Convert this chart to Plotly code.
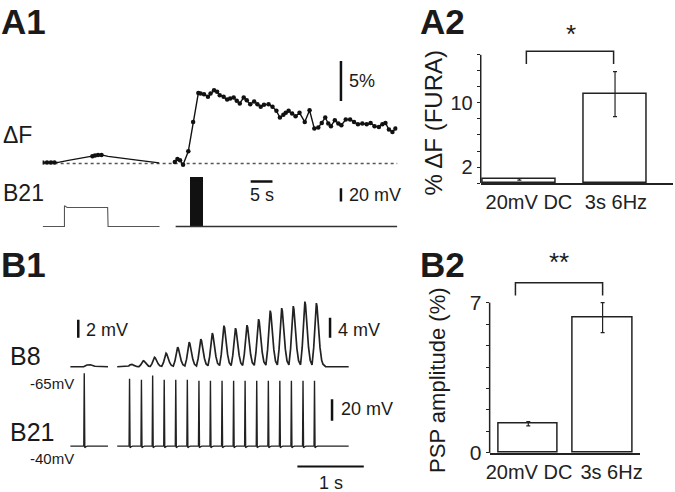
import plotly.graph_objects as go

W, H = 675, 492          # reference picture size (positions below are fractions of it)
FIG_H = 504              # rendered page height (photo is rescaled to 492)
FONT = "Arial, 'Liberation Sans', sans-serif"
BLACK = "#111111"

# ---------------- A1 : Fura dF (%) vs time (s) ----------------
df_seg1_t = [0.0, 1.0, 1.9, 2.7, 3.6, 5.9, 8.6, 11.4, 12.0, 12.7, 13.5, 15.0, 17.7, 19.9, 22.1, 24.4, 26.7]
df_seg1_v = [0.15, 0.15, 0.15, 0.15, 0.15, 0.41, 0.63, 0.91, 1.0, 1.08, 1.08, 0.91, 0.75, 0.58, 0.41, 0.25, 0.1]
df_seg1_dot_idx = [0, 1, 2, 3, 7, 8, 9, 10]

df_seg2_t = [30.3, 30.9, 31.5, 32.2, 33.4, 34.5, 35.7, 36.2, 37.0, 37.9, 38.5, 39.3, 40.0, 40.6, 41.5,
             42.3, 43.0, 43.8, 44.5, 45.2, 46.1, 46.8, 47.6, 48.5, 49.25, 50.0, 50.75, 51.8, 52.7, 53.6,
             54.4, 55.2, 55.75, 56.4, 57.2, 58.0, 58.9, 60.1, 61.2, 62.3, 63.2, 64.0, 64.8, 65.5, 66.1,
             67.0, 67.8, 68.5, 69.5, 70.5, 71.4, 72.3, 73.3, 74.3, 75.2, 76.1, 77.1, 77.9, 78.6, 79.4,
             80.2, 80.9]
df_seg2_v = [0.2, 0.58, 0.41, -0.13, 1.54, 5.2, 8.8, 8.75, 8.66, 8.33, 8.75, 9.16, 8.95, 8.54, 8.33,
             8.0, 8.12, 8.25, 7.83, 7.5, 8.25, 7.91, 7.41, 7.75, 7.41, 7.08, 7.33, 7.41, 7.08, 6.58,
             5.75, 6.08, 6.33, 6.58, 6.25, 5.91, 6.33, 5.2, 6.66, 4.37, 4.5, 5.08, 5.75, 5.0, 4.66,
             5.41, 5.0, 4.79, 5.5, 5.5, 5.2, 4.91, 5.0, 4.91, 5.08, 4.66, 4.58, 4.91, 5.08, 4.25,
             3.95, 4.37]
df_time_end = 81.36

# B21 membrane potential under the imaging (mV relative to rest)
b21a_seg1_t = [0.0, 5.0, 5.0, 5.6, 14.9, 15.0, 26.8]
b21a_seg1_v = [0.0, 0.0, 32.0, 29.2, 29.2, 0.0, 0.0]
b21a_seg2_t = [30.5, 81.3]
b21a_seg2_v = [0.0, 0.0]
stim_start, stim_dur, stim_height = 33.6, 3.2, 75.0

# ---------------- A2 : % dF (FURA) ----------------
a2_labels = ["20mV DC", "3s 6Hz"]
a2_means = [0.45, 11.1]
a2_err = [0.1, 2.8]
a2_ticks = [0, 2, 4, 6, 8, 10, 12, 14, 16]
a2_ticktext = ["", "2", "", "", "", "10", "", "", ""]

# ---------------- B1 : B8 PSPs and B21 spikes ----------------
b21_single_spike_t = [0.209]
b21_single_spike_h = [68.0]
b21_train_t = [0.891, 1.070, 1.239, 1.413, 1.587, 1.761, 1.936, 2.109, 2.284, 2.458, 2.631, 2.806,
               2.981, 3.154, 3.328, 3.503, 3.676]
b21_train_h = [63, 62, 66, 62, 62, 62, 61, 61, 61, 61, 61, 61, 61, 61, 61, 61, 61]
b8_psp_amp = [0.5, 1.2, 1.9, 2.7, 3.9, 4.9, 5.5, 6.7, 8.2, 7.7, 8.3, 9.5, 11.2, 11.7, 12.1, 13.0, 12.7]
b8_seg1_t = [0.0, 0.2, 0.25, 0.3, 0.37, 0.567]
b8_seg1_v = [0.0, 0.0, 0.35, 0.4, 0.1, 0.0]
seg1_end, seg2_start, seg2_end = 0.567, 0.705, 4.19

# ---------------- B2 : PSP amplitude (%) ----------------
b2_labels = ["20mV DC", "3s 6Hz"]
b2_means = [1.36, 6.3]
b2_err = [0.1, 0.7]
b2_ticks = [0, 1, 2, 3, 4, 5, 6, 7]
b2_ticktext = ["0", "", "", "", "", "", "", "7"]


# ---------------- helpers ----------------
def dom_x(a, b):
    return [a / W, b / W]


def dom_y(top, bottom):
    return [1 - bottom / H, 1 - top / H]


def spike_path(times, heights, t0, t1):
    xs, ys = [t0], [0.0]
    for t, h in zip(times, heights):
        xs += [t - 0.007, t, t + 0.008, t + 0.018, t + 0.045]
        ys += [0.0, h, -1.5, -0.8, 0.0]
    xs.append(t1)
    ys.append(0.0)
    return xs, ys


PSP_DELAY = 0.028
PSP_REL_T = [-0.065, -0.04, -0.02, -0.008, 0.0, 0.01, 0.03, 0.055, 0.08, 0.1]
PSP_FRAC = [0.03, 0.3, 0.75, 0.96, 1.0, 0.95, 0.65, 0.3, 0.1, 0.04]


def psp_path(spike_times, amps, t0, t1):
    xs, ys = [t0], [0.0]
    for t, a in zip(spike_times, amps):
        tp = t + PSP_DELAY
        for rt, f in zip(PSP_REL_T, PSP_FRAC):
            xs.append(tp + rt)
            ys.append(a * f)
    xs += [xs[-1] + 0.04, t1]
    ys += [0.0, 0.0]
    return xs, ys


fig = go.Figure()
line_k = dict(color=BLACK, width=1.4)

# ---- A1 traces ----
fig.add_trace(go.Scatter(x=[0, df_time_end], y=[0, 0], mode="lines",
                         line=dict(color="#555555", width=1.5, dash="3px,3px"), xaxis="x", yaxis="y"))
fig.add_trace(go.Scatter(x=df_seg1_t, y=df_seg1_v, mode="lines", line=dict(color=BLACK, width=1.2),
                         xaxis="x", yaxis="y"))
fig.add_trace(go.Scatter(x=[df_seg1_t[i] for i in df_seg1_dot_idx], y=[df_seg1_v[i] for i in df_seg1_dot_idx],
                         mode="markers", marker=dict(color=BLACK, size=4.5), xaxis="x", yaxis="y"))
fig.add_trace(go.Scatter(x=df_seg2_t, y=df_seg2_v, mode="lines+markers", line=line_k,
                         marker=dict(color=BLACK, size=4.5), xaxis="x", yaxis="y"))
# 5% scale bar
fig.add_trace(go.Scatter(x=[68.4, 68.4], y=[7.8, 12.8], mode="lines", line=dict(color=BLACK, width=2.5),
                         xaxis="x", yaxis="y"))

fig.add_trace(go.Scatter(x=b21a_seg1_t, y=b21a_seg1_v, mode="lines", line=dict(color="#555555", width=1.1),
                         xaxis="x2", yaxis="y2"))
fig.add_trace(go.Scatter(x=b21a_seg2_t, y=b21a_seg2_v, mode="lines", line=dict(color="#333333", width=1.4),
                         xaxis="x2", yaxis="y2"))
fig.add_trace(go.Bar(x=[stim_start + stim_dur / 2], y=[stim_height], width=[stim_dur], base=0,
                     marker=dict(color=BLACK, line=dict(width=0)), xaxis="x2", yaxis="y2"))
fig.add_trace(go.Scatter(x=[47.7, 52.7], y=[69, 69], mode="lines", line=dict(color=BLACK, width=2.5),
                         xaxis="x2", yaxis="y2"))
fig.add_trace(go.Scatter(x=[68.4, 68.4], y=[38.5, 58.5], mode="lines", line=dict(color=BLACK, width=2.5),
                         xaxis="x2", yaxis="y2"))

# ---- A2 bars ----
fig.add_trace(go.Bar(x=[1, 2], y=a2_means, width=[0.76, 0.66],
                     marker=dict(color="white", line=dict(color="#222222", width=1.5)),
                     error_y=dict(type="data", array=a2_err, color="#222222", thickness=1.2, width=2),
                     xaxis="x3", yaxis="y3"))
fig.add_trace(go.Scatter(x=[1.073, 1.073, 1.985, 1.985], y=[14.84, 16.46, 16.46, 14.84], mode="lines",
                         line=dict(color="#222222", width=1.5), xaxis="x3", yaxis="y3"))

# ---- B1 traces ----
x8a, y8a = b8_seg1_t, b8_seg1_v
x8b, y8b = psp_path(b21_train_t, b8_psp_amp, seg2_start, seg2_end)
fig.add_trace(go.Scatter(x=x8a, y=y8a, mode="lines", line=dict(color="#222222", width=1.7), xaxis="x5", yaxis="y5"))
fig.add_trace(go.Scatter(x=x8b, y=y8b, mode="lines", line=dict(color="#222222", width=1.7), xaxis="x5", yaxis="y5"))
fig.add_trace(go.Scatter(x=[0.119, 0.119], y=[5.8, 9.4], mode="lines", line=dict(color=BLACK, width=2.5),
                         xaxis="x5", yaxis="y5"))
fig.add_trace(go.Scatter(x=[3.91, 3.91], y=[5.8, 9.8], mode="lines", line=dict(color=BLACK, width=2.5),
                         xaxis="x5", yaxis="y5"))

x21a, y21a = spike_path(b21_single_spike_t, b21_single_spike_h, 0.0, seg1_end)
x21b, y21b = spike_path(b21_train_t, b21_train_h, seg2_start, seg2_end)
fig.add_trace(go.Scatter(x=x21a, y=y21a, mode="lines", line=dict(color="#222222", width=1.4), xaxis="x6", yaxis="y6"))
fig.add_trace(go.Scatter(x=x21b, y=y21b, mode="lines", line=dict(color="#222222", width=1.4), xaxis="x6", yaxis="y6"))
fig.add_trace(go.Scatter(x=[3.94, 3.94], y=[23.8, 43.8], mode="lines", line=dict(color=BLACK, width=2.5),
                         xaxis="x6", yaxis="y6"))
fig.add_trace(go.Scatter(x=[3.418, 4.418], y=[-19, -19], mode="lines", line=dict(color=BLACK, width=2.0),
                         xaxis="x6", yaxis="y6"))

# ---- B2 bars ----
fig.add_trace(go.Bar(x=[1, 2], y=b2_means, width=[0.8, 0.8],
                     marker=dict(color="white", line=dict(color="#222222", width=1.5)),
                     error_y=dict(type="data", array=b2_err, color="#222222", thickness=1.2, width=2),
                     xaxis="x4", yaxis="y4"))
fig.add_trace(go.Scatter(x=[0.827, 0.827, 2.0, 2.0], y=[7.33, 7.93, 7.93, 7.33], mode="lines",
                         line=dict(color="#222222", width=1.5), xaxis="x4", yaxis="y4"))

hidden = dict(visible=False, showgrid=False, zeroline=False)
xlabfont = dict(family=FONT, size=20, color="#222222")

layout = dict(
    width=W, height=FIG_H, margin=dict(l=0, r=0, t=0, b=0), showlegend=False,
    paper_bgcolor="white", plot_bgcolor="rgba(0,0,0,0)", bargap=0,
    font=dict(family=FONT, color="#222222"),
    xaxis=dict(domain=dom_x(39, 397), range=[0, df_time_end], anchor="y", **hidden),
    yaxis=dict(domain=dom_y(50, 170), range=[-0.84, 14.16], anchor="x", **hidden),
    xaxis2=dict(domain=dom_x(39, 397), range=[0, df_time_end], anchor="y2", **hidden),
    yaxis2=dict(domain=dom_y(170, 240), range=[-21.5, 86.15], anchor="x2", **hidden),
    xaxis3=dict(domain=dom_x(481, 675), range=[0.596, 2.606], anchor="y3", showline=True, linecolor="#222222",
                linewidth=1.5, tickvals=[1.1, 2.01], ticktext=a2_labels, ticks="", showgrid=False, zeroline=False,
                tickfont=xlabfont),
    yaxis3=dict(domain=dom_y(20, 182.7), range=[0, 20.34], anchor="x3", showline=False, tickvals=a2_ticks,
                ticktext=a2_ticktext, ticks="outside", ticklen=3, tickwidth=1.2, tickcolor="#222222",
                showgrid=False, zeroline=False, tickfont=dict(family=FONT, size=20, color="#222222")),
    xaxis4=dict(domain=dom_x(490, 642), range=[0.48, 2.507], anchor="y4", showline=True, linecolor="#222222",
                linewidth=1.5, tickvals=[1.01, 2.12], ticktext=b2_labels, ticks="", showgrid=False, zeroline=False,
                tickfont=xlabfont),
    yaxis4=dict(domain=dom_y(250, 452), range=[0, 9.43], anchor="x4", showline=False, tickvals=b2_ticks,
                ticktext=b2_ticktext, ticks="outside", ticklen=3, tickwidth=1.2, tickcolor="#222222",
                showgrid=False, zeroline=False, tickfont=dict(family=FONT, size=21, color="#222222")),
    xaxis5=dict(domain=dom_x(60, 400), range=[-0.104, 4.97], anchor="y5", **hidden),
    yaxis5=dict(domain=dom_y(290, 372), range=[-1.2, 15.2], anchor="x5", **hidden),
    xaxis6=dict(domain=dom_x(60, 400), range=[-0.104, 4.97], anchor="y6", **hidden),
    yaxis6=dict(domain=dom_y(372, 492), range=[-43.8, 68.57], anchor="x6", **hidden),
)
fig.update_layout(**layout)

# y axis lines for bar charts (only up to top tick)
fig.add_shape(type="line", xref="x3 domain", yref="y3", x0=0, x1=0, y0=0, y1=16,
              line=dict(color="#222222", width=1.5))
fig.add_shape(type="line", xref="x4 domain", yref="y4", x0=0, x1=0, y0=0, y1=7,
              line=dict(color="#222222", width=1.5))


def ptext(text, px, py, size, bold=False, anchor="left", angle=0):
    fig.add_annotation(text=f"<b>{text}</b>" if bold else text, x=px / W, y=1 - py / H,
                       xref="paper", yref="paper", xanchor=anchor, yanchor="middle", showarrow=False,
                       textangle=angle, font=dict(family=FONT, size=size, color="#1a1a1a"))


def dtext(text, x, y, xr, yr, size, anchor="left"):
    fig.add_annotation(text=text, x=x, y=y, xref=xr, yref=yr, xanchor=anchor, yanchor="middle",
                       showarrow=False, font=dict(family=FONT, size=size, color="#1a1a1a"))


# panel letters
ptext("A1", -5, 21, 35, bold=True)
ptext("A2", 418, 21, 35, bold=True)
ptext("B1", -5, 264, 35, bold=True)
ptext("B2", 418, 264, 35, bold=True)

# A1 labels
ptext("ΔF", -3, 135, 23)
ptext("B21", -3, 193, 23)
dtext("5%", 69.8, 10.3, "x", "y", 18)
dtext("5 s", 50.2, 47.7, "x2", "y2", 18, anchor="center")
dtext("20 mV", 69.8, 48.5, "x2", "y2", 18)

# A2 labels
ptext("% ΔF (FURA)", 433, 123, 24, anchor="center", angle=-90)
dtext("*", 1.54, 18.6, "x3", "y3", 26, anchor="center")

# B1 labels
ptext("B8", 4, 355, 25)
ptext("B21", 4, 431, 25)
ptext("-65mV", 24, 383, 15)
ptext("-40mV", 24, 458, 15)
dtext("2 mV", 0.21, 7.4, "x5", "y5", 18)
dtext("4 mV", 4.0, 7.4, "x5", "y5", 18)
dtext("20 mV", 4.05, 34.3, "x6", "y6", 18)
dtext("1 s", 3.93, -34.3, "x6", "y6", 18, anchor="center")

# B2 labels
ptext("PSP amplitude (%)", 438, 380, 22, anchor="center", angle=-90)
dtext("**", 1.413, 8.9, "x4", "y4", 26, anchor="center")

page_fix = (
    "var s=document.documentElement.style;s.margin='0';s.padding='0';s.overflow='hidden';"
    "var b=document.body.style;b.margin='0';b.padding='0';b.overflow='hidden';b.height='%dpx';" % FIG_H
)
fig.write_html("out.html", config={"displayModeBar": False}, post_script=page_fix)
